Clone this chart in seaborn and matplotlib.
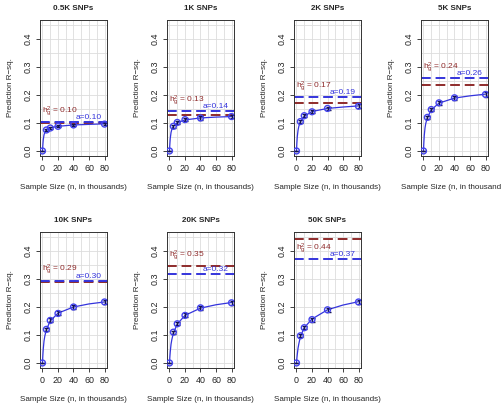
import matplotlib
matplotlib.use('Agg')
import matplotlib.pyplot as plt
import numpy as np
import pandas as pd
import seaborn as sns

# sample sizes (thousands) of the observed points
n_obs = [0, 5, 10, 20, 40, 80]
n_curve = [0, 0.5, 1, 2, 3, 5, 10, 20, 40, 60, 80]

titles = ['0.5K SNPs', '1K SNPs', '2K SNPs', '5K SNPs', '10K SNPs', '20K SNPs', '50K SNPs']
h2 = [0.10, 0.13, 0.17, 0.235, 0.29, 0.347, 0.443]
h2_lab = ['0.10', '0.13', '0.17', '0.24', '0.29', '0.35', '0.44']
a_val = [0.102, 0.143, 0.193, 0.26, 0.294, 0.317, 0.37]
a_lab = ['0.10', '0.14', '0.19', '0.26', '0.30', '0.32', '0.37']

r2_obs = [
    [0.0, 0.075, 0.082, 0.088, 0.093, 0.096],
    [0.0, 0.088, 0.102, 0.112, 0.118, 0.123],
    [0.0, 0.105, 0.126, 0.140, 0.152, 0.160],
    [0.0, 0.120, 0.148, 0.172, 0.190, 0.202],
    [0.0, 0.120, 0.152, 0.177, 0.200, 0.218],
    [0.0, 0.110, 0.140, 0.170, 0.197, 0.215],
    [0.0, 0.097, 0.126, 0.155, 0.190, 0.218],
]
r2_err = [
    [0.0, 0.004, 0.004, 0.004, 0.005, 0.005],
    [0.0, 0.005, 0.005, 0.005, 0.006, 0.006],
    [0.0, 0.005, 0.006, 0.006, 0.006, 0.007],
    [0.0, 0.006, 0.006, 0.007, 0.007, 0.008],
    [0.0, 0.006, 0.007, 0.007, 0.007, 0.008],
    [0.0, 0.006, 0.006, 0.007, 0.007, 0.008],
    [0.0, 0.005, 0.006, 0.007, 0.007, 0.008],
]
r2_curve = [
    [0, 0.022, 0.040, 0.058, 0.066, 0.075, 0.083, 0.088, 0.093, 0.095, 0.097],
    [0, 0.025, 0.045, 0.066, 0.077, 0.089, 0.101, 0.111, 0.118, 0.121, 0.123],
    [0, 0.028, 0.050, 0.074, 0.088, 0.104, 0.124, 0.141, 0.152, 0.157, 0.161],
    [0, 0.031, 0.055, 0.083, 0.099, 0.119, 0.147, 0.171, 0.189, 0.197, 0.203],
    [0, 0.028, 0.050, 0.079, 0.096, 0.119, 0.150, 0.178, 0.200, 0.211, 0.218],
    [0, 0.022, 0.040, 0.067, 0.083, 0.107, 0.139, 0.170, 0.196, 0.208, 0.216],
    [0, 0.016, 0.030, 0.053, 0.068, 0.094, 0.126, 0.157, 0.190, 0.207, 0.219],
]

sns.set_theme(style='ticks')
plt.rcParams['font.family'] = ['Liberation Sans', 'DejaVu Sans']
plt.rcParams['axes.unicode_minus'] = False

RED = '#8e2b2b'
BLUE = '#3434dc'
NAVY = '#141450'

fig = plt.figure(figsize=(5.02, 4.07), dpi=100)
W, H = 502, 407
fs = 5.8

for i, title in enumerate(titles):
    row, col = divmod(i, 4)
    left = 40 + 127 * col
    top = 20 + 212 * row
    ax = fig.add_axes([left / W, 1 - (top + 136) / H, 67 / W, 136 / H])

    cur = pd.DataFrame({'n': n_curve, 'r2': r2_curve[i]})
    obs = pd.DataFrame({'n': n_obs, 'r2': r2_obs[i], 'err': r2_err[i]})

    for gx in np.arange(0, 81, 10):
        ax.axvline(gx, color='#dddddd', lw=0.6, zorder=0)
    for gy in np.arange(0, 0.46, 0.05):
        ax.axhline(gy, color='#dddddd', lw=0.6, zorder=0)

    ax.axhline(h2[i], color=RED, lw=1.4, ls=(0, (5, 2.5)), zorder=2)
    ax.axhline(a_val[i], color=BLUE, lw=1.4, ls=(0, (5, 2.5)), zorder=2)

    sns.lineplot(data=cur, x='n', y='r2', ax=ax, color=BLUE, lw=0.9, zorder=3)
    ax.errorbar(obs['n'], obs['r2'], yerr=obs['err'], fmt='none', ecolor=NAVY,
                elinewidth=1.0, capsize=1.8, capthick=1.0, zorder=4)
    sns.scatterplot(data=obs, x='n', y='r2', ax=ax, marker='o', s=18,
                    facecolor='none', edgecolor='#4444ee', linewidth=1.0, zorder=5)

    # labels
    top_line = max(h2[i], a_val[i])
    y_h = top_line + 0.04 if top_line + 0.06 < 0.45 else h2[i] - 0.033
    ax.text(-1, y_h, r'$\mathregular{h_g^2}$' + ' = ' + h2_lab[i], color=RED,
            fontsize=6, ha='left', va='center', zorder=6)
    ax.text(76, a_val[i] + 0.016, 'a=' + a_lab[i], color=BLUE, fontsize=6,
            ha='right', va='center', zorder=6)

    ax.set_xlim(-3.2, 83.2)
    ax.set_ylim(-0.018, 0.468)
    ax.set_xticks([0, 20, 40, 60, 80])
    ax.set_yticks([0, 0.1, 0.2, 0.3, 0.4])
    ax.set_yticklabels(['0.0', '0.1', '0.2', '0.3', '0.4'], rotation=90, va='center')
    ax.tick_params(labelsize=6.4, length=3, width=0.6, pad=2.5, colors='#222222')
    ax.set_xlabel('Sample Size (n, in thousands)', fontsize=fs, labelpad=8)
    ax.set_ylabel('Prediction R\u2212sq.', fontsize=fs, labelpad=7)
    ax.set_title(title, fontsize=5.8, fontweight='bold', pad=7)
    for sp in ax.spines.values():
        sp.set_visible(True)
        sp.set_linewidth(0.7)
        sp.set_color('#333333')

fig.savefig('out.png', dpi=100)
